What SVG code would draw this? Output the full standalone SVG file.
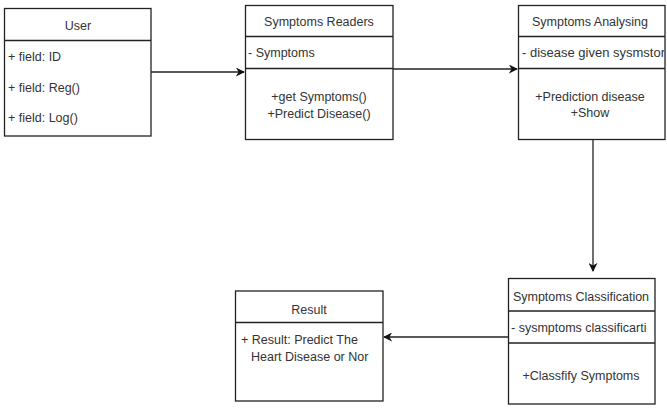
<svg xmlns="http://www.w3.org/2000/svg" width="667" height="408" viewBox="0 0 667 408">
<style>
.box{fill:#fff;stroke:#222;stroke-width:1.3}
.div{stroke:#222;stroke-width:1.3}
text{font-family:"Liberation Sans",Arial,sans-serif;font-size:12.5px;fill:#333}
.c{text-anchor:middle}
.edge{fill:none;stroke:#222;stroke-width:1.3}
</style>
<defs>
<marker id="arr" viewBox="0 0 10 10" refX="9" refY="5" markerWidth="9" markerHeight="9" markerUnits="userSpaceOnUse" orient="auto">
<path d="M0,0 L10,5 L0,10 L3,5 Z" fill="#111"/>
</marker>
<clipPath id="clipA"><rect x="519" y="37" width="145" height="31"/></clipPath>
</defs>
<rect width="667" height="408" fill="#fff"/>
<g id="connectors">
<line class="edge" x1="151" y1="72" x2="244" y2="72" marker-end="url(#arr)"/>
<line class="edge" x1="393" y1="69" x2="517" y2="69" marker-end="url(#arr)"/>
<line class="edge" x1="593" y1="139" x2="593" y2="271" marker-end="url(#arr)"/>
<line class="edge" x1="508" y1="337" x2="384" y2="337" marker-end="url(#arr)"/>
</g>
<g id="user">
<rect class="box" x="4.5" y="8.5" width="146.5" height="127.5"/>
<line class="div" x1="4.5" y1="40.5" x2="151" y2="40.5"/>
<text class="c" x="78" y="30">User</text>
<text x="8" y="61">+ field: ID</text>
<text x="8" y="92">+ field: Reg()</text>
<text x="8" y="122">+ field: Log()</text>
</g>
<g id="symptoms-readers">
<rect class="box" x="245.5" y="5.5" width="147.5" height="134"/>
<line class="div" x1="245.5" y1="36.5" x2="393" y2="36.5"/>
<line class="div" x1="245.5" y1="68.5" x2="393" y2="68.5"/>
<text class="c" x="319" y="26">Symptoms Readers</text>
<text x="248" y="57">- Symptoms</text>
<text class="c" x="319" y="101">+get Symptoms()</text>
<text class="c" x="319" y="118">+Predict Disease()</text>
</g>
<g id="symptoms-analysing">
<rect class="box" x="518.5" y="5.5" width="146.5" height="134"/>
<line class="div" x1="518.5" y1="36.5" x2="665" y2="36.5"/>
<line class="div" x1="518.5" y1="68.5" x2="665" y2="68.5"/>
<text class="c" x="590" y="26">Symptoms Analysing</text>
<text x="522" y="57" clip-path="url(#clipA)" textLength="143" lengthAdjust="spacingAndGlyphs">- disease given sysmstor</text>
<text class="c" x="590" y="101">+Prediction disease</text>
<text class="c" x="590" y="117">+Show</text>
</g>
<g id="symptoms-classification">
<rect class="box" x="508.5" y="278.5" width="146.5" height="125.5"/>
<line class="div" x1="508.5" y1="311" x2="655" y2="311"/>
<line class="div" x1="508.5" y1="343" x2="655" y2="343"/>
<text class="c" x="581" y="301">Symptoms Classification</text>
<text x="511" y="332">- sysmptoms classificarti</text>
<text class="c" x="581" y="380">+Classfify Symptoms</text>
</g>
<g id="result">
<rect class="box" x="235.5" y="291" width="147.5" height="110"/>
<line class="div" x1="235.5" y1="322.5" x2="383" y2="322.5"/>
<text class="c" x="309" y="314">Result</text>
<text x="241" y="344">+ Result: Predict The</text>
<text x="251" y="361">Heart Disease or Nor</text>
</g>
</svg>
